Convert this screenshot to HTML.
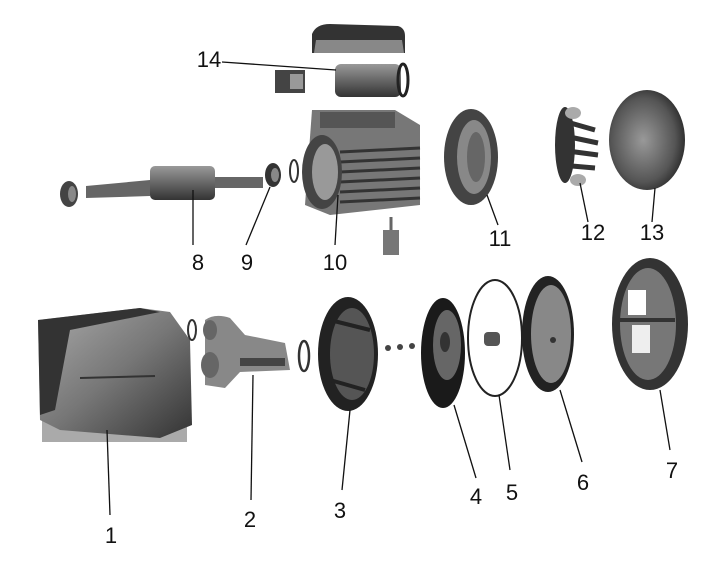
<!DOCTYPE html>
<html><head><style>
html,body{margin:0;padding:0;background:#fff;}
svg{display:block;}
text{font-family:"Liberation Sans",sans-serif;font-size:22px;fill:#111;text-anchor:middle;}
</style></head><body>
<svg width="712" height="568" viewBox="0 0 712 568" xmlns="http://www.w3.org/2000/svg">
<defs>
<linearGradient id="g1" x1="0" y1="0" x2="1" y2="1"><stop offset="0" stop-color="#aaa"/><stop offset="0.5" stop-color="#777"/><stop offset="1" stop-color="#333"/></linearGradient>
<linearGradient id="g2" x1="0" y1="0" x2="0" y2="1"><stop offset="0" stop-color="#999"/><stop offset="0.5" stop-color="#666"/><stop offset="1" stop-color="#333"/></linearGradient>
<radialGradient id="r1" cx="0.45" cy="0.5" r="0.6"><stop offset="0" stop-color="#999"/><stop offset="0.7" stop-color="#555"/><stop offset="1" stop-color="#222"/></radialGradient>
</defs>
<rect width="712" height="568" fill="#fff"/>
<!-- 14 -->
<path d="M312 34 Q316 24 330 24 L398 26 Q405 28 405 36 L405 53 L312 53 Z" fill="#333"/>
<path d="M316 40 L402 40 L404 53 L314 53 Z" fill="#888"/>
<rect x="275" y="70" width="30" height="23" fill="#444"/><rect x="290" y="74" width="13" height="15" fill="#999"/>
<rect x="335" y="64" width="66" height="33" rx="6" fill="url(#g2)"/>
<ellipse cx="403" cy="80" rx="5" ry="16" fill="none" stroke="#222" stroke-width="3"/>
<line x1="222" y1="62" x2="336" y2="70" stroke="#111" stroke-width="1.3"/>
<text x="209" y="67">14</text>
<!-- 10 motor -->
<path d="M312 110 L395 110 L420 125 L420 205 L330 215 L305 205 Z" fill="#777"/>
<rect x="320" y="112" width="75" height="16" fill="#555"/>
<g stroke="#333" stroke-width="3"><line x1="340" y1="152" x2="420" y2="148"/><line x1="340" y1="162" x2="420" y2="158"/><line x1="340" y1="172" x2="420" y2="168"/><line x1="340" y1="182" x2="420" y2="178"/><line x1="340" y1="192" x2="420" y2="188"/><line x1="340" y1="202" x2="420" y2="198"/></g>
<ellipse cx="322" cy="172" rx="20" ry="37" fill="#444"/>
<ellipse cx="325" cy="172" rx="13" ry="28" fill="#999"/>
<rect x="383" y="230" width="16" height="25" fill="#777"/><line x1="391" y1="217" x2="391" y2="230" stroke="#666" stroke-width="3"/>
<ellipse cx="294" cy="171" rx="4" ry="11" fill="none" stroke="#333" stroke-width="2"/>
<line x1="335" y1="245" x2="338" y2="195" stroke="#111" stroke-width="1.3"/>
<text x="335" y="270">10</text>
<!-- 8 shaft -->
<ellipse cx="69" cy="194" rx="9" ry="13" fill="#444"/><ellipse cx="72" cy="194" rx="4" ry="8" fill="#888"/>
<path d="M86 186 L150 180 L150 196 L86 198 Z" fill="#666"/>
<rect x="213" y="177" width="50" height="11" fill="#666"/>
<rect x="150" y="166" width="65" height="34" rx="5" fill="url(#g2)"/>
<line x1="193" y1="245" x2="193" y2="190" stroke="#111" stroke-width="1.3"/>
<text x="198" y="270">8</text>
<!-- 9 -->
<ellipse cx="273" cy="175" rx="8" ry="12" fill="#333"/><ellipse cx="275" cy="175" rx="4" ry="7" fill="#888"/>
<line x1="246" y1="245" x2="270" y2="187" stroke="#111" stroke-width="1.3"/>
<text x="247" y="270">9</text>
<!-- 11 -->
<ellipse cx="471" cy="157" rx="27" ry="48" fill="#444"/><ellipse cx="474" cy="157" rx="17" ry="37" fill="#888"/><ellipse cx="476" cy="157" rx="9" ry="25" fill="#666"/>
<line x1="498" y1="225" x2="487" y2="195" stroke="#111" stroke-width="1.3"/>
<text x="500" y="246">11</text>
<!-- 12 fan -->
<g stroke="#333" stroke-width="5">
<line x1="560" y1="120" x2="595" y2="130"/><line x1="560" y1="135" x2="598" y2="143"/><line x1="560" y1="150" x2="598" y2="155"/><line x1="560" y1="165" x2="595" y2="168"/></g>
<ellipse cx="565" cy="145" rx="10" ry="38" fill="#333"/>
<ellipse cx="573" cy="113" rx="8" ry="6" fill="#aaa"/><ellipse cx="578" cy="180" rx="8" ry="6" fill="#aaa"/>
<line x1="588" y1="222" x2="580" y2="183" stroke="#111" stroke-width="1.3"/>
<text x="593" y="240">12</text>
<!-- 13 -->
<ellipse cx="647" cy="140" rx="38" ry="50" fill="url(#r1)"/>
<line x1="652" y1="222" x2="655" y2="188" stroke="#111" stroke-width="1.3"/>
<text x="652" y="240">13</text>
<!-- 1 body -->
<rect x="42" y="400" width="145" height="42" fill="#aaa"/>
<path d="M38 320 L140 308 L170 312 L190 340 L192 425 L160 438 L60 430 L40 420 Z" fill="url(#g1)"/>
<path d="M38 320 L140 308 L160 312 L70 330 L55 410 L40 415 Z" fill="#333"/>
<line x1="80" y1="378" x2="155" y2="376" stroke="#333" stroke-width="2"/>
<line x1="107" y1="430" x2="110" y2="515" stroke="#111" stroke-width="1.3"/>
<text x="111" y="543">1</text>
<ellipse cx="192" cy="330" rx="4" ry="10" fill="none" stroke="#333" stroke-width="2"/>
<!-- 2 -->
<path d="M205 320 Q215 313 230 318 L245 335 L285 343 L290 370 L240 372 L225 388 L205 385 Z" fill="#888"/>
<ellipse cx="210" cy="330" rx="7" ry="10" fill="#666"/><ellipse cx="210" cy="365" rx="9" ry="13" fill="#666"/>
<rect x="240" y="358" width="45" height="8" fill="#444"/>
<ellipse cx="304" cy="356" rx="5" ry="15" fill="none" stroke="#333" stroke-width="2.5"/>
<line x1="253" y1="375" x2="251" y2="500" stroke="#111" stroke-width="1.3"/>
<text x="250" y="527">2</text>
<!-- 3 -->
<ellipse cx="348" cy="354" rx="30" ry="57" fill="#222"/><ellipse cx="352" cy="354" rx="22" ry="46" fill="#555"/>
<path d="M330 320 L370 330 M330 380 L365 390" stroke="#222" stroke-width="4"/>
<line x1="350" y1="410" x2="342" y2="490" stroke="#111" stroke-width="1.3"/>
<text x="340" y="518">3</text>
<circle cx="388" cy="348" r="3" fill="#444"/><circle cx="400" cy="347" r="3" fill="#444"/><circle cx="412" cy="346" r="3" fill="#444"/>
<!-- 4 -->
<ellipse cx="443" cy="353" rx="22" ry="55" fill="#1a1a1a"/><ellipse cx="447" cy="345" rx="14" ry="35" fill="#666"/><ellipse cx="445" cy="342" rx="5" ry="10" fill="#333"/>
<line x1="454" y1="405" x2="476" y2="478" stroke="#111" stroke-width="1.3"/>
<text x="476" y="504">4</text>
<!-- 5 -->
<ellipse cx="495" cy="338" rx="27" ry="58" fill="none" stroke="#222" stroke-width="2"/>
<rect x="484" y="332" width="16" height="14" rx="4" fill="#555"/>
<line x1="499" y1="395" x2="510" y2="470" stroke="#111" stroke-width="1.3"/>
<text x="512" y="500">5</text>
<!-- 6 -->
<ellipse cx="548" cy="334" rx="26" ry="58" fill="#222"/><ellipse cx="551" cy="334" rx="20" ry="49" fill="#888"/><circle cx="553" cy="340" r="3" fill="#333"/>
<line x1="560" y1="390" x2="582" y2="462" stroke="#111" stroke-width="1.3"/>
<text x="583" y="490">6</text>
<!-- 7 -->
<ellipse cx="650" cy="324" rx="38" ry="66" fill="#333"/><ellipse cx="648" cy="324" rx="28" ry="56" fill="#777"/>
<rect x="628" y="290" width="18" height="25" fill="#fff"/><rect x="632" y="325" width="18" height="28" fill="#eee"/>
<line x1="620" y1="320" x2="675" y2="320" stroke="#333" stroke-width="4"/>
<line x1="660" y1="390" x2="670" y2="450" stroke="#111" stroke-width="1.3"/>
<text x="672" y="478">7</text>
</svg>
</body></html>
